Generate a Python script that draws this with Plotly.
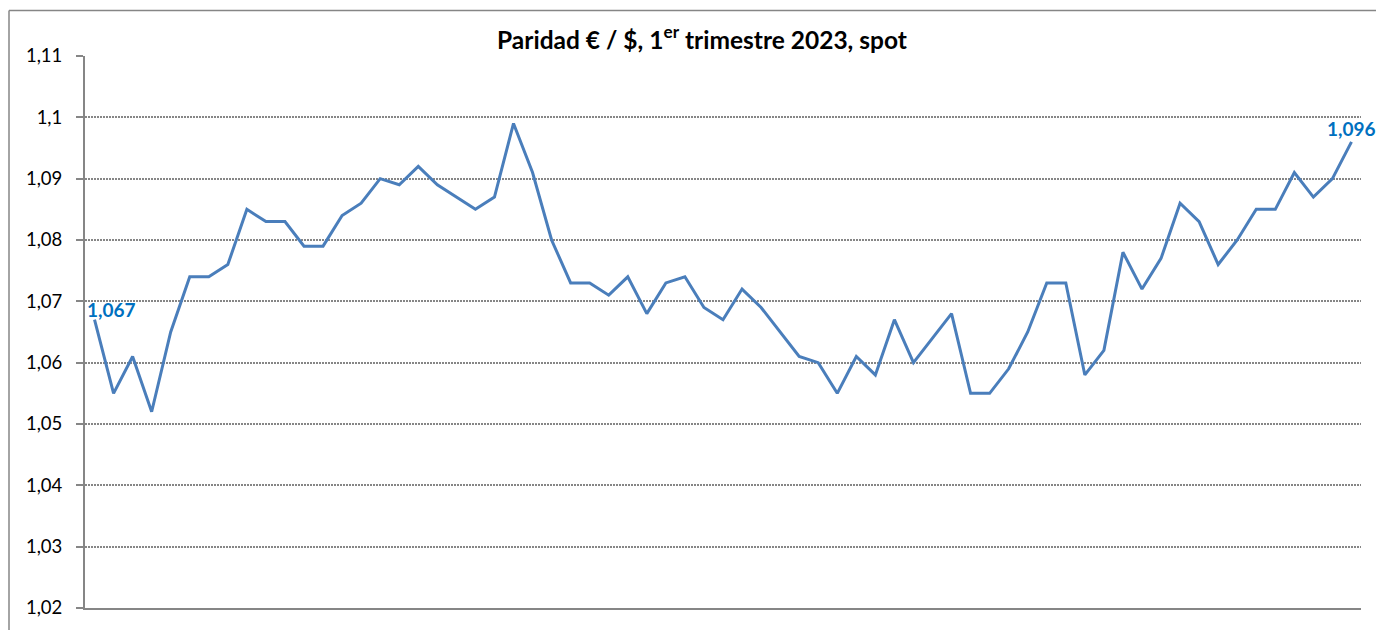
import plotly.graph_objects as go

# Daily EUR/USD spot, Q1 2023
values = [
    1.067, 1.055, 1.061, 1.052, 1.065, 1.074, 1.074, 1.076, 1.085, 1.083,
    1.083, 1.079, 1.079, 1.084, 1.086, 1.090, 1.089, 1.092, 1.089, 1.087,
    1.085, 1.087, 1.099, 1.091, 1.080, 1.073, 1.073, 1.071, 1.074, 1.068,
    1.073, 1.074, 1.069, 1.067, 1.072, 1.069, 1.065, 1.061, 1.060, 1.055,
    1.061, 1.058, 1.067, 1.060, 1.064, 1.068, 1.055, 1.055, 1.059, 1.065,
    1.073, 1.073, 1.058, 1.062, 1.078, 1.072, 1.077, 1.086, 1.083, 1.076,
    1.080, 1.085, 1.085, 1.091, 1.087, 1.090, 1.096,
]
days = list(range(len(values)))

tick_vals = [1.02, 1.03, 1.04, 1.05, 1.06, 1.07, 1.08, 1.09, 1.10, 1.11]
tick_text = ["1,02", "1,03", "1,04", "1,05", "1,06", "1,07", "1,08", "1,09", "1,1", "1,11"]

title_text = "Paridad € / $, 1<sup>er</sup> trimestre 2023, spot"
first_label = "1,067"
last_label = "1,096"

LINE = "#4A7EBB"
LABEL = "#0070C0"
GREY = "#868686"
FONT = "Lato, Carlito, Calibri, sans-serif"

# page body has an 8px margin, so the figure is offset by 8px
OFF = 8
W, H = 1384 - OFF, 630 - OFF
L, T = 85 - OFF, 56 - OFF
R = W - (1361 - OFF)
B = H - (608 - OFF)
pw, ph = W - L - R, H - T - B


def px_x(px):
    return (px - OFF - L) / pw


def px_y(py):
    return (H - B - (py - OFF)) / ph


fig = go.Figure()
fig.add_trace(go.Scatter(
    x=days, y=values, mode="lines",
    line=dict(color=LINE, width=3),
    hoverinfo="skip", showlegend=False,
))

fig.add_annotation(
    x=days[0], y=values[0], xref="x", yref="y",
    text=f"<b>{first_label}</b>", showarrow=False,
    xanchor="left", yanchor="middle", xshift=-10, yshift=10,
    font=dict(family=FONT, size=19, color=LABEL),
)
fig.add_annotation(
    x=days[-1], y=values[-1], xref="x", yref="y",
    text=f"<b>{last_label}</b>", showarrow=False,
    xanchor="center", yanchor="middle", yshift=13,
    font=dict(family=FONT, size=19, color=LABEL),
)

# outer chart-area border (left and top edges visible)
fig.add_shape(type="line", xref="paper", yref="paper",
              x0=px_x(9), x1=px_x(1400), y0=px_y(10.5), y1=px_y(10.5),
              line=dict(color=GREY, width=1.5))
fig.add_shape(type="line", xref="paper", yref="paper",
              x0=px_x(9), x1=px_x(9), y0=px_y(10.5), y1=px_y(650),
              line=dict(color=GREY, width=1.5))

fig.update_layout(
    width=W, height=H,
    margin=dict(l=L, r=R, t=T, b=B, pad=0),
    paper_bgcolor="white", plot_bgcolor="white",
    font=dict(family=FONT, size=18, color="#000000"),
    title=dict(
        text=f"<b>{title_text}</b>",
        x=(702 - OFF) / W, xref="container", xanchor="center",
        y=1 - (40 - OFF) / H, yref="container", yanchor="middle",
        font=dict(family=FONT, size=24.5, color="#000000"),
    ),
    xaxis=dict(
        range=[-0.5, len(values) - 0.5],
        showgrid=False, zeroline=False, showticklabels=False,
        showline=True, linecolor=GREY, linewidth=2, ticks="",
        fixedrange=True,
    ),
    yaxis=dict(
        range=[1.02, 1.11],
        tickvals=tick_vals, ticktext=tick_text,
        showgrid=True, gridcolor=GREY, gridwidth=1.5, griddash="1.5px,1.5px",
        zeroline=False, showline=True, linecolor=GREY, linewidth=2,
        ticks="outside", ticklen=7, tickcolor=GREY, tickwidth=1.5,
        ticklabelstandoff=10,
        tickfont=dict(family=FONT, size=18.5, color="#000000"),
        fixedrange=True,
    ),
)

fig.write_html("out.html")
